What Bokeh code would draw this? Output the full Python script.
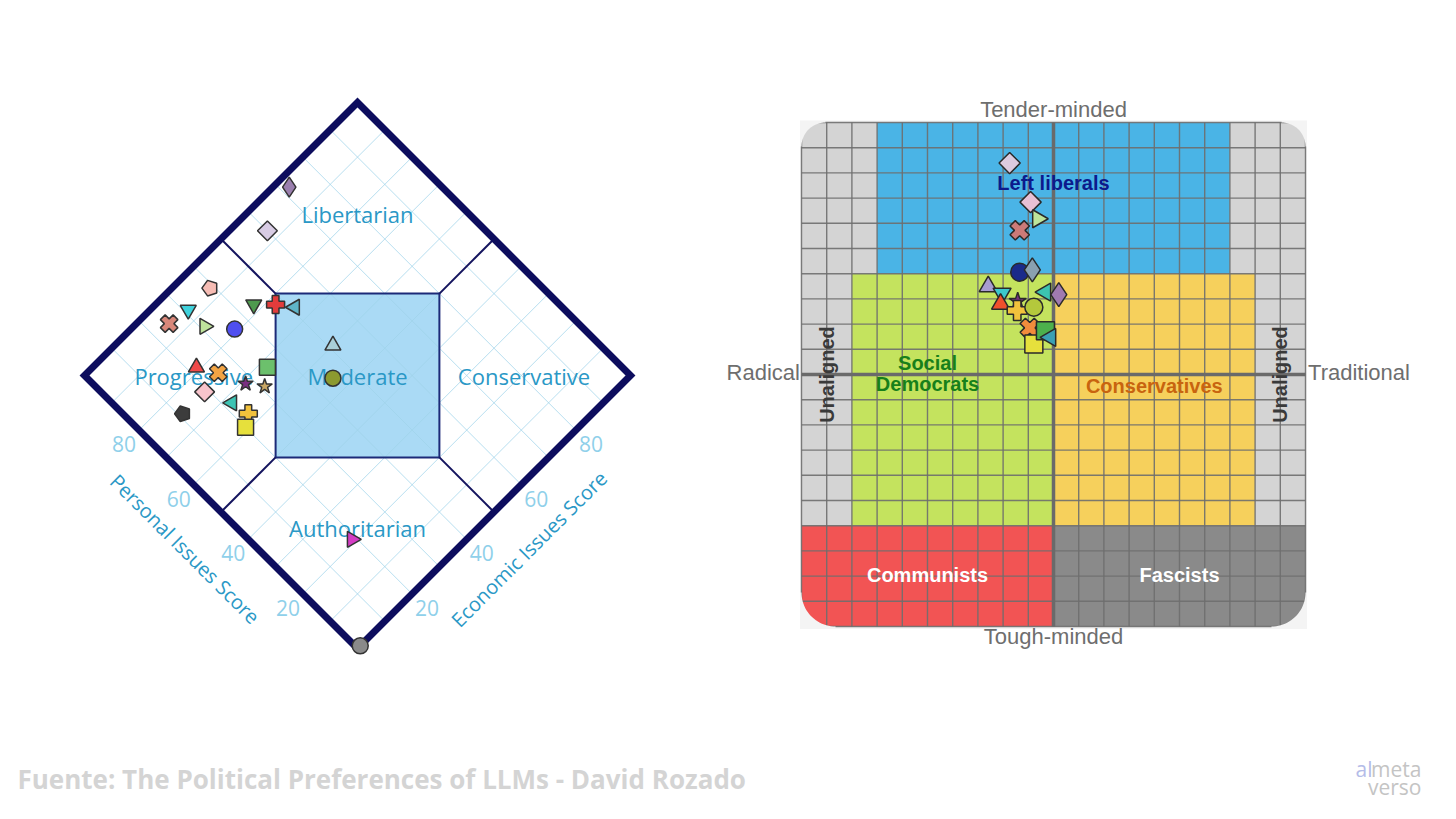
import numpy as np
from bokeh.plotting import figure
from bokeh.layouts import column, row
from bokeh.models import Range1d
from bokeh.core.properties import value
from bokeh.embed import file_html
from bokeh.resources import INLINE

# ---------------- Data: Nolan chart (left) ----------------
nolan_economic = [72, 60, 39, 31, 25, 31, 36, 44, 48, 51, 51, 22, 25, 35, 45, 19, 28, 31, 22, 23, 11, 20, 19, 1]
nolan_personal = [97, 93, 93, 93, 94, 87, 81, 82, 78, 74, 60, 81, 76, 68, 54, 75, 69, 65, 68, 63, 75, 61, 21, 0]
nolan_shape = ["diamond", "rdiamond", "pentagon", "tri_down", "x", "tri_right", "circle", "tri_down",
               "plus", "tri_left", "tri_up", "tri_up", "x", "square", "circle", "rdiamond", "star",
               "star", "tri_left", "plus", "pentagon", "square", "tri_right", "circle"]
nolan_color = ["#9a7fae", "#d8cce4", "#f6bcb4", "#3fd2dc", "#d8877a", "#bfe39c", "#4f4ff0", "#4e9a4e",
               "#e23c3c", "#5fb4c8", "#a9cfd8", "#f04a4a", "#f2a444", "#6cc06c", "#8c9a30", "#f8c4cc",
               "#7a3080", "#c8a664", "#3dc4b4", "#f2c23c", "#3c3c3c", "#e6e03c", "#d43cc4", "#8a8a8a"]
nolan_ticks = [20, 40, 60, 80]
nolan_grid = [10, 20, 30, 40, 50, 60, 70, 80, 90]
nolan_regions = ["Libertarian", "Progressive", "Moderate", "Conservative", "Authoritarian"]
nolan_axis_titles = ["Personal Issues Score", "Economic Issues Score"]

# ---------------- Data: political compass (right) ----------------
eysenck_x = [-1.74, -0.91, -0.62, -1.34, -1.34, -0.84, -2.59, -2.04, -2.10, -1.42, -1.44, -0.78,
             -0.32, 0.21, -0.94, -0.78, -0.32, -0.12]
eysenck_y = [8.39, 6.84, 6.18, 5.72, 4.06, 4.15, 3.49, 3.22, 2.80, 2.91, 2.54, 2.67,
             3.27, 3.17, 1.85, 1.21, 1.74, 1.47]
eysenck_shape = ["rdiamond", "rdiamond", "tri_right", "x", "circle", "diamond", "tri_up", "tri_down",
                 "tri_up", "star", "plus", "circle", "tri_left", "diamond", "x", "square", "square", "tri_left"]
eysenck_color = ["#dccbe0", "#e8c0d4", "#bde59a", "#cc7a78", "#1a2a8a", "#8aa0b0", "#a99cd0", "#3cc8cc",
                 "#f0502c", "#7a3080", "#f2c23c", "#b4c83c", "#3cc4b0", "#a07ab0", "#f28c3c", "#e6e03c",
                 "#4cb04c", "#3aa0b4"]
eysenck_zone_color = ["#d4d4d4", "#4ab4e6", "#d4d4d4", "#d4d4d4", "#c4e35e", "#f6d05c", "#d4d4d4",
                      "#f25454", "#8a8a8a"]
eysenck_zone_left = [-10, -7, 7, -10, -8, 0, 8, -10, 0]
eysenck_zone_right = [-7, 7, 10, -8, 0, 8, 10, 0, 10]
eysenck_zone_bottom = [4, 4, 4, -6, -6, -6, -6, -10, -10]
eysenck_zone_top = [10, 10, 10, 4, 4, 4, 4, -6, -6]
eysenck_axis_labels = ["Tender-minded", "Tough-minded", "Radical", "Traditional"]

source_text = "Fuente: The Political Preferences of LLMs - David Rozado"

MARKERS = {"diamond": ("diamond", 0.0), "rdiamond": ("square", np.pi / 4),
           "tri_down": ("inverted_triangle", 0.0), "x": ("plus", np.pi / 4),
           "tri_right": ("triangle", -np.pi / 2), "circle": ("circle", 0.0), "plus": ("plus", 0.0),
           "tri_left": ("triangle", np.pi / 2), "tri_up": ("triangle", 0.0), "square": ("square", 0.0),
           "star": ("star", 0.0)}

LFONT = value("Open Sans")
AFONT = value("Liberation Sans")


def uv(e, p):
    e = np.asarray(e, dtype=float)
    p = np.asarray(p, dtype=float)
    return e - p, e + p


# ================= LEFT FIGURE =================
K = 2.73
WL, HL = 708, 738
CXF, BYF = 357, 90
left = figure(width=WL, height=HL, x_range=Range1d(-CXF / K, (WL - CXF) / K),
              y_range=Range1d(-BYF / K, (HL - BYF) / K), output_backend="svg",
              toolbar_location=None, min_border=0, x_axis_type=None, y_axis_type=None)
left.grid.visible = False
left.outline_line_color = None
left.background_fill_color = "white"
left.border_fill_color = "white"

du, dv = uv([0, 100, 100, 0], [0, 0, 100, 100])
left.patch(list(du), list(dv), fill_color="white", line_color=None)

mu, mv = uv([50, 80, 50, 20], [80, 50, 20, 50])
left.patch(list(mu), list(mv), fill_color="#aadaf5", line_color=None)

gxs, gys = [], []
for g in nolan_grid:
    a, b = uv([g, g], [0, 100])
    gxs.append(list(a)); gys.append(list(b))
    a, b = uv([0, 100], [g, g])
    gxs.append(list(a)); gys.append(list(b))
left.multi_line(gxs, gys, line_color="#9fd3ea", line_width=1, line_alpha=0.75)

left.patch(list(mu), list(mv), fill_color=None, line_color="#1c2a78", line_width=2)

cxs, cys = [], []
for (e0, p0, e1, p1) in [(50, 80, 50, 100), (80, 50, 100, 50), (20, 50, 0, 50), (50, 20, 50, 0)]:
    a, b = uv([e0, e1], [p0, p1])
    cxs.append(list(a)); cys.append(list(b))
left.multi_line(cxs, cys, line_color="#14145e", line_width=2)

left.patch(list(du), list(dv), fill_color=None, line_color="#0d0d5e", line_width=7, line_join="miter")

# region labels
left.text(x=[0, -60, 0, 61, 0], y=[159, 100, 100, 100, 44], text=nolan_regions, text_font=LFONT,
          text_font_size="22px", text_color="#2a98c6", text_align="center", text_baseline="middle")

# tick labels
tu, tv = uv([0] * 4, nolan_ticks)
left.text(x=list(tu), y=list(tv), text=[str(t) for t in nolan_ticks], x_offset=-15, y_offset=14,
          text_font=LFONT, text_font_size="21px", text_color="#8fd0ea", text_align="center",
          text_baseline="middle")
tu, tv = uv(nolan_ticks, [0] * 4)
left.text(x=list(tu), y=list(tv), text=[str(t) for t in nolan_ticks], x_offset=15, y_offset=14,
          text_font=LFONT, text_font_size="21px", text_color="#8fd0ea", text_align="center",
          text_baseline="middle")

# axis titles
au, av = uv([0], [50])
left.text(x=list(au), y=list(av), text=[nolan_axis_titles[0]], x_offset=-36, y_offset=37, angle=-np.pi / 4,
          text_font=LFONT, text_font_size="20px", text_color="#2a98c6", text_align="center",
          text_baseline="middle")
au, av = uv([50], [0])
left.text(x=list(au), y=list(av), text=[nolan_axis_titles[1]], x_offset=35, y_offset=37, angle=np.pi / 4,
          text_font=LFONT, text_font_size="20px", text_color="#2a98c6", text_align="center",
          text_baseline="middle")

# markers
nu, nv = uv(nolan_economic, nolan_personal)
for i, shp in enumerate(nolan_shape):
    if shp == "pentagon":
        left.ngon(x=[nu[i]], y=[nv[i]], radius=3.0, n=5, angle=np.pi / 2,
                  fill_color=nolan_color[i], line_color="#333333", line_width=1.5)
    else:
        m, ang = MARKERS[shp]
        size = {"diamond": 20, "rdiamond": 14, "x": 18, "plus": 18}.get(shp, 16)
        left.scatter(x=[nu[i]], y=[nv[i]], marker=m, angle=ang, size=size,
                     fill_color=nolan_color[i], line_color="#333333", line_width=1.5)

# ================= RIGHT FIGURE =================
S = 25.2
WR, HR = 746, 738
CXR, CYR = 345, 364
right = figure(width=WR, height=HR, x_range=Range1d(-CXR / S, (WR - CXR) / S),
               y_range=Range1d(-CYR / S, (HR - CYR) / S), output_backend="svg",
               toolbar_location=None, min_border=0, x_axis_type=None, y_axis_type=None)
right.grid.visible = False
right.outline_line_color = None
right.background_fill_color = "white"
right.border_fill_color = "white"

BG = "#f4f4f4"
right.quad(left=[-10.06], right=[10.06], bottom=[-10.1], top=[10.08], fill_color=BG, line_color=None)
right.quad(left=eysenck_zone_left, right=eysenck_zone_right, bottom=eysenck_zone_bottom,
           top=eysenck_zone_top, fill_color=eysenck_zone_color, line_color=None)

lines = list(range(-10, 11))
gx = [[v, v] for v in lines] + [[-10, 10] for v in lines]
gy = [[-10, 10] for v in lines] + [[v, v] for v in lines]
right.multi_line(gx, gy, line_color="#6e6e6e", line_width=1.4, line_alpha=0.9)
right.multi_line([[0, 0], [-10, 10]], [[-10, 10], [0, 0]], line_color="#6a6a6a", line_width=3.5)

# rounded corner masks
for (cx, cy, sx, sy, R) in [(-10, 10, 1, -1, 0.95), (10, 10, -1, -1, 0.95),
                            (-10, -10, 1, 1, 1.35), (10, -10, -1, 1, 1.35)]:
    t = np.linspace(0, np.pi / 2, 24)
    ax = (cx + sx * R) - sx * R * np.cos(t)
    ay = (cy + sy * R) - sy * R * np.sin(t)
    e = 0.06
    poly_x = [cx - sx * e, cx - sx * e] + list(ax) + [cx + sx * R]
    poly_y = [cy - sy * e, cy + sy * R] + list(ay) + [cy - sy * e]
    right.patch(poly_x, poly_y, fill_color=BG, line_color=None)

# zone labels
ZS = "20px"
right.text(x=[0], y=[7.58], text=["Left liberals"], text_font=AFONT, text_font_style="bold",
           text_font_size=ZS, text_color="#0c1a8c", text_align="center", text_baseline="middle")
right.text(x=[-5.0, -5.0], y=[0.47, -0.38], text=["Social", "Democrats"], text_font=AFONT,
           text_font_style="bold", text_font_size=ZS, text_color="#17801a", text_align="center",
           text_baseline="middle")
right.text(x=[4.0], y=[-0.44], text=["Conservatives"], text_font=AFONT, text_font_style="bold",
           text_font_size=ZS, text_color="#c8640f", text_align="center", text_baseline="middle")
right.text(x=[-5.0, 5.0], y=[-7.94, -7.94], text=["Communists", "Fascists"], text_font=AFONT,
           text_font_style="bold", text_font_size=ZS, text_color="white", text_align="center",
           text_baseline="middle")
right.text(x=[-9.0, 9.0], y=[0, 0], text=["Unaligned", "Unaligned"], angle=np.pi / 2, text_font=AFONT,
           text_font_style="bold", text_font_size=ZS, text_color="#3a3a3a", text_align="center",
           text_baseline="middle")

right.text(x=[0, 0], y=[10.52, -10.38], text=eysenck_axis_labels[:2], text_font=AFONT,
           text_font_size="22px", text_color="#6e6e6e", text_align="center", text_baseline="middle")
right.text(x=[-10.06], y=[0.06], text=[eysenck_axis_labels[2]], text_font=AFONT,
           text_font_size="22px", text_color="#6e6e6e", text_align="right", text_baseline="middle")
right.text(x=[10.1], y=[0.06], text=[eysenck_axis_labels[3]], text_font=AFONT,
           text_font_size="22px", text_color="#6e6e6e", text_align="left", text_baseline="middle")

for i, shp in enumerate(eysenck_shape):
    m, ang = MARKERS[shp]
    size = {"diamond": 24, "rdiamond": 15, "x": 20, "plus": 20}.get(shp, 18)
    right.scatter(x=[eysenck_x[i]], y=[eysenck_y[i]], marker=m, angle=ang, size=size,
                  fill_color=eysenck_color[i], line_color="#2a2a2a", line_width=1.5)

# ================= FOOTER =================
foot = figure(width=1454, height=80, x_range=Range1d(0, 1454), y_range=Range1d(0, 80),
              output_backend="svg", toolbar_location=None, min_border=0,
              x_axis_type=None, y_axis_type=None)
foot.grid.visible = False
foot.outline_line_color = None
foot.text(x=[17], y=[40], text=[source_text], text_font=value("Open Sans"), text_font_style="bold",
          text_font_size="26px", text_color="#d4d4d4", text_align="left", text_baseline="middle")
foot.text(x=[1421], y=[50], text=["meta"], text_font=value("Open Sans"), text_font_size="21px",
          text_color="#c4c4c4", text_align="right", text_baseline="middle")
foot.text(x=[1372], y=[50], text=["al"], text_font=value("Open Sans"), text_font_size="21px",
          text_color="#b4bce8", text_align="right", text_baseline="middle")
foot.text(x=[1421], y=[32], text=["verso"], text_font=value("Open Sans"), text_font_size="21px",
          text_color="#c4c4c4", text_align="right", text_baseline="middle")

layout = column(row(left, right, spacing=0), foot, spacing=0)
open("out.html", "w").write(file_html(layout, INLINE))
